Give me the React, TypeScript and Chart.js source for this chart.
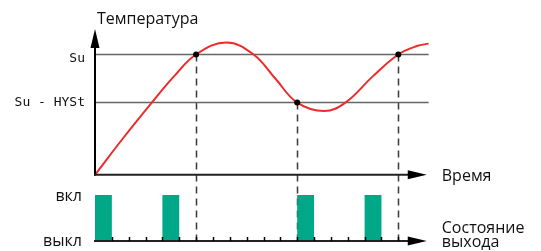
import React, { useEffect, useRef } from 'react';
import { Chart, registerables } from 'chart.js';

Chart.register(...registerables);

// Temperature curve (time units, temperature units)
const curveX = [0, 1.7, 3.37, 4.7, 6, 7.8, 9.41, 10.7, 12, 13.6, 14.86, 16.5, 18, 19.1, 19.8];
const curveY = [0, 3.1, 6, 8.2, 10, 11, 10, 8.0, 6, 5.3, 6, 8.2, 10, 10.7, 10.9];

// Threshold levels
const levelValues = [10, 6];
const levelLabels = ['Su', 'Su - HYSt'];
const levelEnd = 19.8;

// Switching points
const crossingX = [6, 12, 18];
const crossingY = [10, 6, 10];

// Output state per time interval
const stateTimes = [0, 1, 2, 3, 4, 5, 6, 7, 8, 9, 10, 11, 12, 13, 14, 15, 16, 17, 18];
const stateValues = [1, 0, 0, 0, 1, 0, 0, 0, 0, 0, 0, 0, 1, 0, 0, 0, 1, 0, 0];
const stateLabels = ['выкл', 'вкл'];

// Time axis ticks of the state axis
const timeTicks = [1, 2, 3, 4, 5, 6, 7, 8, 9, 10, 11, 12, 13, 14, 15, 16, 17, 18];

const yAxisTitle = 'Температура';
const xAxisTitle = 'Время';
const stateAxisTitle = ['Состояние', 'выхода'];

const RED = '#ee2a2a';
const GREEN = '#00a887';
const TEXT_FONT = '16px "Open Sans", "Noto Sans", sans-serif';
const SEG_FONT = '13px "DejaVu Sans Mono", monospace';

const diagramPlugin = {
  id: 'diagram',
  beforeDatasetsDraw(chart: any) {
    const { ctx, scales } = chart;
    const x = scales.x, y = scales.y, s = scales.state;
    ctx.save();
    ctx.strokeStyle = '#3a3a3a';
    ctx.lineWidth = 1.5;
    ctx.setLineDash([7, 5]);
    for (let i = 0; i < crossingX.length; i++) {
      const px = Math.round(x.getPixelForValue(crossingX[i])) + 0.5;
      ctx.beginPath();
      ctx.moveTo(px, y.getPixelForValue(crossingY[i]));
      ctx.lineTo(px, s.getPixelForValue(0));
      ctx.stroke();
    }
    ctx.restore();
  },
  afterDatasetsDraw(chart: any) {
    const { ctx, scales, chartArea } = chart;
    const x = scales.x, y = scales.y, s = scales.state;
    const x0 = x.getPixelForValue(0);
    const y0 = y.getPixelForValue(0);
    const sy0 = s.getPixelForValue(0);
    const tipX = x.getPixelForValue(19.69);
    const tipY = chartArea.top + 1;
    const headLen = 19;
    const headHalf = 4.5;
    ctx.save();
    ctx.fillStyle = '#000';
    ctx.strokeStyle = '#000';
    ctx.setLineDash([]);

    // vertical temperature axis with arrow
    ctx.lineWidth = 2;
    ctx.beginPath();
    ctx.moveTo(x0, y0 + 1);
    ctx.lineTo(x0, tipY + headLen - 2);
    ctx.stroke();
    ctx.beginPath();
    ctx.moveTo(x0, tipY);
    ctx.lineTo(x0 + headHalf, tipY + headLen);
    ctx.lineTo(x0 - headHalf, tipY + headLen);
    ctx.closePath();
    ctx.fill();

    const hArrow = (py: number) => {
      ctx.lineWidth = 2;
      ctx.beginPath();
      ctx.moveTo(x0 - 1, py);
      ctx.lineTo(tipX - headLen + 2, py);
      ctx.stroke();
      ctx.beginPath();
      ctx.moveTo(tipX, py);
      ctx.lineTo(tipX - headLen, py - headHalf);
      ctx.lineTo(tipX - headLen, py + headHalf);
      ctx.closePath();
      ctx.fill();
    };
    ctx.strokeStyle = '#222';
    hArrow(y0);
    hArrow(sy0);

    // ticks on the state axis
    ctx.strokeStyle = '#000';
    ctx.lineWidth = 1.5;
    for (const t of timeTicks) {
      const px = Math.round(x.getPixelForValue(t)) + 0.5;
      ctx.beginPath();
      ctx.moveTo(px, sy0);
      ctx.lineTo(px, sy0 - 4);
      ctx.stroke();
    }

    // level labels
    ctx.fillStyle = '#111';
    ctx.font = SEG_FONT;
    ctx.textAlign = 'right';
    ctx.textBaseline = 'middle';
    const labelDy = [4, 0];
    levelValues.forEach((v, i) => {
      ctx.fillText(levelLabels[i], x0 - 10, y.getPixelForValue(v) + labelDy[i]);
    });

    // state labels
    ctx.font = TEXT_FONT;
    ctx.textBaseline = 'alphabetic';
    ctx.fillText(stateLabels[1], x0 - 13, s.getPixelForValue(1) + 6);
    ctx.fillText(stateLabels[0], x0 - 13, sy0 + 5);

    // axis titles
    ctx.textAlign = 'left';
    ctx.fillText(yAxisTitle, x0 + 2, 24);
    ctx.fillText(xAxisTitle, tipX + 15, y0 + 6);
    ctx.fillText(stateAxisTitle[0], tipX + 15, sy0 - 8);
    ctx.fillText(stateAxisTitle[1], tipX + 15, sy0 + 6);
    ctx.restore();
  },
};

export default function App() {
  const ref = useRef<HTMLCanvasElement | null>(null);

  useEffect(() => {
    document.body.style.margin = '0';
    const canvas = ref.current;
    if (!canvas) return;

    const stateMin = -0.13;
    const stateMax = 4.63;

    const chart = new Chart(canvas, {
      type: 'line',
      data: {
        datasets: [
          {
            label: 'points',
            type: 'scatter',
            data: crossingX.map((v, i) => ({ x: v, y: crossingY[i] })),
            pointRadius: 3,
            pointBackgroundColor: '#000',
            pointBorderWidth: 0,
            showLine: false,
            yAxisID: 'y',
            order: 0,
          } as any,
          {
            label: 'temperature',
            data: curveX.map((v, i) => ({ x: v, y: curveY[i] })),
            borderColor: RED,
            borderWidth: 2,
            pointRadius: 0,
            tension: 0.4,
            fill: false,
            yAxisID: 'y',
            order: 1,
          },
          ...levelValues.map((v) => ({
            label: 'level',
            data: [{ x: 0, y: v }, { x: levelEnd, y: v }],
            borderColor: '#666',
            borderWidth: 1.5,
            pointRadius: 0,
            fill: false,
            yAxisID: 'y',
            order: 2,
          })),
          {
            label: 'state',
            data: stateTimes.map((t, i) => ({ x: t, y: stateValues[i] })),
            stepped: true,
            borderWidth: 0,
            borderColor: 'rgba(0,0,0,0)',
            backgroundColor: GREEN,
            pointRadius: 0,
            fill: 'origin',
            yAxisID: 'state',
            order: 3,
          } as any,
        ],
      },
      options: {
        animation: false,
        responsive: false,
        events: [],
        layout: { padding: { left: 95, right: 109, top: 28, bottom: 4 } },
        plugins: { legend: { display: false }, tooltip: { enabled: false } },
        scales: {
          x: { type: 'linear', min: 0, max: 20, display: false },
          y: { type: 'linear', min: -6, max: 12.2, display: false },
          state: { type: 'linear', min: stateMin, max: stateMax, display: false },
        },
      },
      plugins: [diagramPlugin],
    });
    return () => chart.destroy();
  }, []);

  return <canvas ref={ref} width={541} height={251} style={{ display: 'block' }} />;
}
